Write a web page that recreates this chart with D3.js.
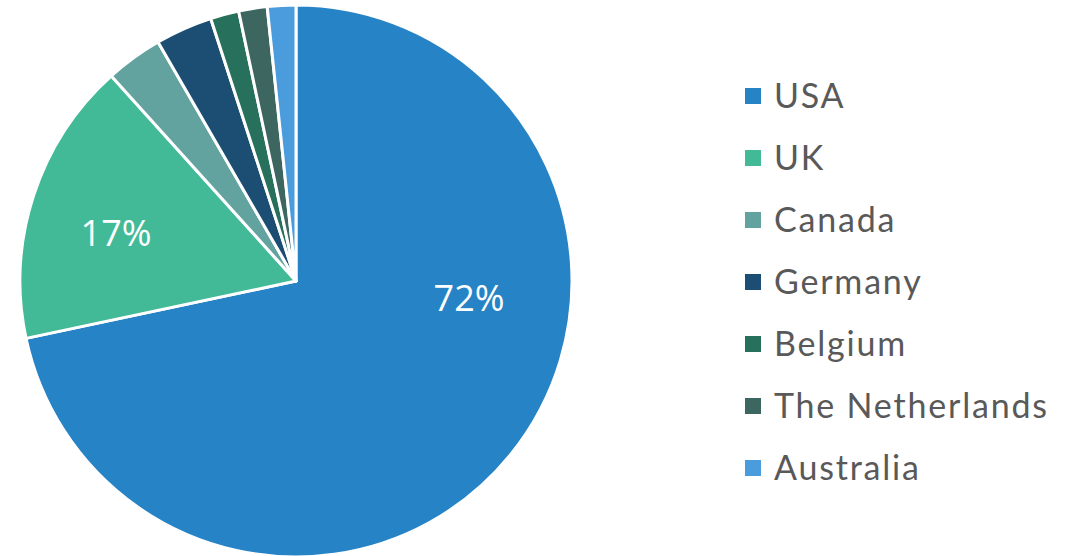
<!DOCTYPE html>
<html>
<head>
<meta charset="utf-8">
<script src="https://cdn.jsdelivr.net/npm/d3@7"></script>
<style>
  body { margin: 0; background: #fff; }
  svg { display: block; }
</style>
</head>
<body>
<div id="pie-chart"></div>
<script>
// counts (total 60)
var countries = ['USA', 'UK', 'Canada', 'Germany', 'Belgium', 'The Netherlands', 'Australia']
var counts = [43, 10, 2, 2, 1, 1, 1]
var colors = ['#2683c6', '#42ba97', '#62a39f', '#1c4e74', '#27705b', '#3d6660', '#4a9cdc']
var shownLabels = ['USA', 'UK']

var width = 1078
var height = 556
var radius = 276
var cx = 296
var cy = 281

var svg = d3
  .select('#pie-chart')
  .append('svg')
  .attr('width', width)
  .attr('height', height)

var data = countries.map(function(c, i) {
  return { country: c, count: counts[i], color: colors[i] }
})
var total = d3.sum(counts)

var pie = d3
  .pie()
  .sort(null)
  .value(d => d.count)

var arc = d3.arc().innerRadius(0).outerRadius(radius)

var g = svg.append('g').attr('transform', 'translate(' + cx + ',' + cy + ')')

var arcs = pie(data)

g.selectAll('path')
  .data(arcs)
  .enter()
  .append('path')
  .attr('d', arc)
  .attr('fill', d => d.data.color)
  .attr('stroke', '#fff')
  .attr('stroke-width', 3)
  .attr('stroke-linejoin', 'round')

// excel "best fit" puts the big slice label nearer its start
function labelPos(d) {
  var span = d.endAngle - d.startAngle
  var a = span > Math.PI ? d.startAngle + 0.37 * span : d.startAngle + span * 0.45
  var r = span > Math.PI ? radius * 0.63 : radius * 0.675
  return [Math.sin(a) * r, -Math.cos(a) * r]
}

g.selectAll('.pct')
  .data(arcs.filter(d => shownLabels.indexOf(d.data.country) > -1))
  .enter()
  .append('text')
  .attr('class', 'pct')
  .attr('transform', d => 'translate(' + labelPos(d) + ')')
  .attr('dy', '0.36em')
  .attr('text-anchor', 'middle')
  .attr('fill', '#fff')
  .attr('font-family', 'Open Sans, sans-serif')
  .attr('font-size', 36)
  .text(d => d3.format('.0%')(d.data.count / total))

// legend
var legendY = d3
  .scalePoint()
  .domain(countries)
  .range([96, 468])

var legend = svg
  .append('g')
  .selectAll('g')
  .data(data)
  .enter()
  .append('g')
  .attr('transform', d => 'translate(745,' + legendY(d.country) + ')')

legend
  .append('rect')
  .attr('x', 0)
  .attr('y', -8)
  .attr('width', 16)
  .attr('height', 16)
  .attr('fill', d => d.color)

legend
  .append('text')
  .attr('x', 29)
  .attr('dy', '0.36em')
  .attr('fill', '#595959')
  .attr('font-family', 'Lato, sans-serif')
  .attr('font-size', 34)
  .attr('letter-spacing', 1.8)
  .text(d => d.country)
</script>
</body>
</html>
